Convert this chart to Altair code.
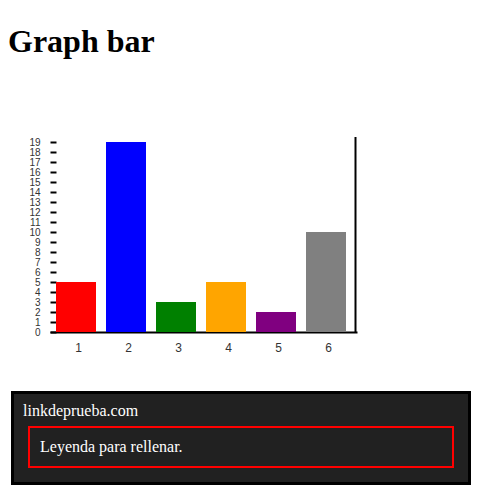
import altair as alt
import pandas as pd

# Data
categories = ["1", "2", "3", "4", "5", "6"]
values = [5, 19, 3, 5, 2, 10]
bar_colors = ["red", "blue", "green", "orange", "purple", "gray"]
y_ticks = list(range(0, 20))

title_text = "Graph bar"
footer_link = "linkdeprueba.com"
footer_legend = "Leyenda para rellenar."

df = pd.DataFrame({"cat": categories, "value": values})
one = pd.DataFrame({"k": [0]})

W, H = 307, 195
PAD_L, PAD_T = 42, 129

bars = alt.Chart(df).mark_bar().encode(
    x=alt.X(
        "cat:N",
        sort=categories,
        scale=alt.Scale(paddingInner=0.2, paddingOuter=0.17, align=6 / 17),
        axis=alt.Axis(
            title=None, labelAngle=0, ticks=False, domainColor="black",
            domainWidth=2, labelPadding=10, labelFontSize=12, labelOffset=2.5,
            labelFont="Liberation Sans", labelColor="#333",
        ),
    ),
    y=alt.Y(
        "value:Q",
        scale=alt.Scale(domain=[0, 19.5], nice=False, zero=True),
        axis=alt.Axis(
            title=None, values=y_ticks, domain=False, grid=False,
            tickSize=6, tickWidth=2, tickColor="black", offset=-6,
            labelPadding=10, labelFontSize=10, labelFont="Liberation Sans",
            labelColor="#333", labelOverlap=False, labelFlush=False,
        ),
    ),
    color=alt.Color("cat:N", scale=alt.Scale(domain=categories, range=bar_colors), legend=None),
)

right_line = alt.Chart(one).mark_rule(color="black", strokeWidth=2).encode(
    x=alt.value(305.5), y=alt.value(0), y2=alt.value(H)
)

title = alt.Chart(one).mark_text(
    text=title_text, font="Liberation Serif", fontSize=32, fontWeight="bold",
    align="left", baseline="alphabetic", color="black",
).encode(x=alt.value(-PAD_L), y=alt.value(-85))

footer_box = alt.Chart(one).mark_rect(
    fill="#212121", stroke="black", strokeWidth=3
).encode(
    x=alt.value(-37.5), x2=alt.value(419.5), y=alt.value(255.5), y2=alt.value(346.5)
)

legend_box = alt.Chart(one).mark_rect(
    fill="#212121", stroke="red", strokeWidth=2
).encode(
    x=alt.value(-21), x2=alt.value(403), y=alt.value(290), y2=alt.value(330)
)

link_text = alt.Chart(one).mark_text(
    text=footer_link, font="Liberation Serif", fontSize=16,
    align="left", baseline="alphabetic", color="white",
).encode(x=alt.value(-27), y=alt.value(279))

legend_text = alt.Chart(one).mark_text(
    text=footer_legend, font="Liberation Serif", fontSize=16,
    align="left", baseline="alphabetic", color="white",
).encode(x=alt.value(-10), y=alt.value(315))

chart = alt.layer(
    bars, right_line, title, footer_box, legend_box, link_text, legend_text
).properties(
    width=W, height=H,
    autosize=alt.AutoSizeParams(type="none"),
    padding={"left": PAD_L, "top": PAD_T, "right": 470 - PAD_L - W, "bottom": 486 - PAD_T - H},
    background="white",
).configure_view(stroke=None)

chart.save("out.html", embed_options={"renderer": "svg", "actions": False})
